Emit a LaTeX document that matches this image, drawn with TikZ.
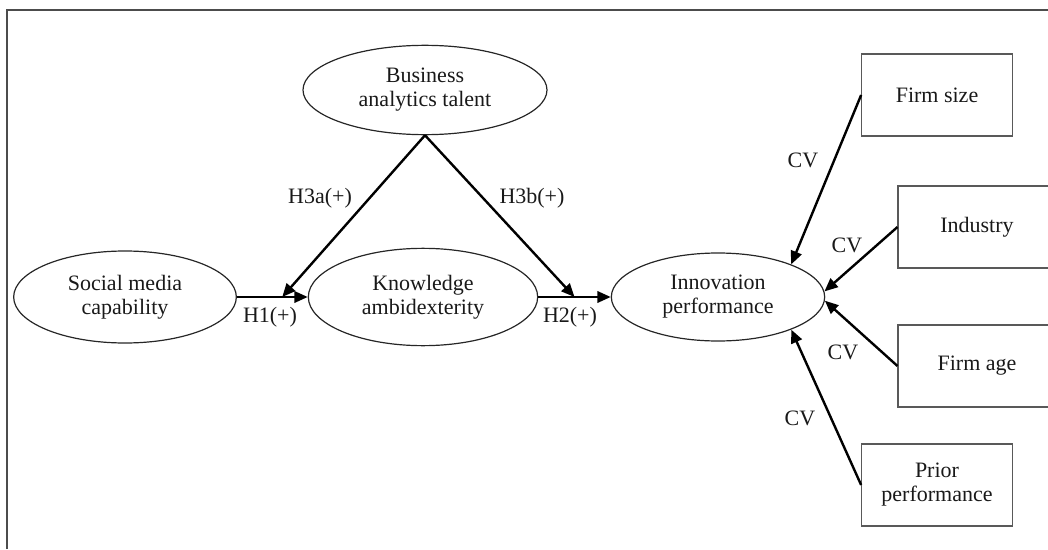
\documentclass[tikz,border=0pt]{standalone}
\usepackage{fontspec}
\setmainfont{Liberation Serif}
\usetikzlibrary{arrows.meta,shapes.geometric,calc}
\begin{document}
\begin{tikzpicture}[x=0.75pt,y=-0.75pt,
  every node/.style={font=\fontsize{16.5}{18}\selectfont, text=black!90, align=center},
  construct/.style={ellipse, draw=black!85, line width=0.9pt, inner sep=0pt},
  ctrlbox/.style={rectangle, draw=black!65, line width=0.8pt, inner sep=0pt,
    minimum height=61.5pt},
  arr/.style={line width=1.8pt, black, -{Triangle[length=10pt,width=8.5pt]}},
  lbl/.style={inner sep=0pt}]
\useasboundingbox (0,0) rectangle (1048,549);

% outer frame
\draw[line width=1.5pt, black!70] (7,549) -- (7,10) -- (1048,10);

% constructs
\node[construct, minimum width=167pt, minimum height=69pt] (smc) at (125,297) {Social media\\capability};
\node[construct, minimum width=172pt, minimum height=73pt] (ka) at (423,297) {Knowledge\\ambidexterity};
\node[construct, minimum width=160pt, minimum height=66pt] (ip) at (718,297) {Innovation\\performance};
\node[construct, minimum width=183pt, minimum height=67pt] (bat) at (425,90) {Business\\analytics talent};

% control variables
\node[ctrlbox, minimum width=113pt] (fs) at (937,95) {Firm size};
\node[ctrlbox, minimum width=118.5pt] (ind) at (977,227) {Industry};
\node[ctrlbox, minimum width=118.5pt] (age) at (977,366) {Firm age};
\node[ctrlbox, minimum width=113pt] (prior) at (937,485) {Prior\\performance};

% main paths
\draw[arr] (smc.east) -- (ka.west);
\draw[arr] (ka.east) -- (ip.west);
\coordinate (h1m) at ($(smc.east)!0.64!(ka.west)$);
\coordinate (h2m) at ($(ka.east)!0.5!(ip.west)$);
\draw[arr] (bat.south) -- (h1m);
\draw[arr] (bat.south) -- (h2m);

% control paths
\draw[arr] (fs.west) -- (ip.24);
\draw[arr] (ind.west) -- (ip.3);
\draw[arr] (age.west) -- (ip.-2);
\draw[arr] (prior.west) -- (ip.-24);

% labels
\node[lbl] (lh1) at (270,317) {H1(+)};
\node[lbl] (lh2) at (570,317) {H2(+)};
\node[lbl] (lh3a) at (320,198) {H3a(+)};
\node[lbl] (lh3b) at (532,198) {H3b(+)};
\node[lbl] (cv1) at (803,160) {CV};
\node[lbl] (cv2) at (847,245) {CV};
\node[lbl] (cv3) at (843,352) {CV};
\node[lbl] (cv4) at (800,418) {CV};
\end{tikzpicture}
\end{document}
